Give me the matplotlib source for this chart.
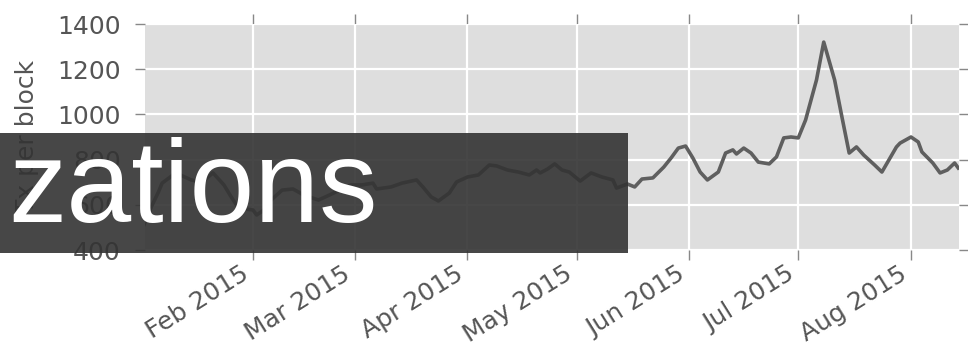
import matplotlib
matplotlib.use("Agg")
import matplotlib.pyplot as plt
import matplotlib.dates as mdates
from matplotlib.patches import Rectangle
import pandas as pd

dates = ["2015-01-02", "2015-01-04", "2015-01-06", "2015-01-07", "2015-01-10",
         "2015-01-12", "2015-01-15", "2015-01-18", "2015-01-21", "2015-01-24",
         "2015-01-26", "2015-01-28", "2015-02-01", "2015-02-02", "2015-02-04",
         "2015-02-06", "2015-02-09", "2015-02-12", "2015-02-15", "2015-02-19",
         "2015-02-22", "2015-02-26", "2015-02-28", "2015-03-03", "2015-03-06",
         "2015-03-07", "2015-03-11", "2015-03-14", "2015-03-18", "2015-03-20",
         "2015-03-22", "2015-03-24", "2015-03-27", "2015-03-29", "2015-04-01",
         "2015-04-04", "2015-04-07", "2015-04-09", "2015-04-12", "2015-04-15",
         "2015-04-18", "2015-04-20", "2015-04-21", "2015-04-23", "2015-04-25",
         "2015-04-27", "2015-04-29", "2015-05-02", "2015-05-05", "2015-05-08",
         "2015-05-11", "2015-05-12", "2015-05-15", "2015-05-17", "2015-05-19",
         "2015-05-22", "2015-05-25", "2015-05-27", "2015-05-29", "2015-05-31",
         "2015-06-02", "2015-06-04", "2015-06-06", "2015-06-09", "2015-06-11",
         "2015-06-13", "2015-06-14", "2015-06-16", "2015-06-18", "2015-06-20",
         "2015-06-23", "2015-06-25", "2015-06-27", "2015-06-29", "2015-07-01",
         "2015-07-03", "2015-07-06", "2015-07-08", "2015-07-11", "2015-07-13",
         "2015-07-15", "2015-07-17", "2015-07-19", "2015-07-22", "2015-07-24",
         "2015-07-28", "2015-07-29", "2015-08-01", "2015-08-03", "2015-08-04",
         "2015-08-07", "2015-08-09", "2015-08-11", "2015-08-13", "2015-08-14"]
tx_per_block = [511, 590, 657, 696, 732, 732, 710, 701, 741, 688,
                635, 586, 577, 555, 577, 621, 665, 670, 643, 621,
                643, 674, 688, 688, 696, 670, 679, 696, 710, 674,
                635, 617, 652, 701, 723, 732, 776, 772, 754, 745,
                732, 754, 741, 758, 781, 754, 745, 705, 741, 723,
                710, 674, 692, 679, 714, 719, 767, 807, 851, 860,
                807, 745, 710, 745, 829, 843, 825, 851, 829, 789,
                781, 812, 896, 900, 896, 975, 1152, 1320, 1152, 989,
                829, 856, 820, 776, 745, 856, 873, 900, 878, 834,
                785, 741, 754, 785, 763]
y_ticks = [400, 600, 800, 1000, 1200, 1400]
y_label = "Tx per block"
banner_text = "zations"

txt_col = "#555555"

fig = plt.figure(figsize=(9.68, 3.59), dpi=100)
ax = fig.add_axes([145 / 968, 1 - 250 / 359, 814 / 968, 226 / 359])
ax.set_facecolor("#dedede")
for s in ax.spines.values():
    s.set_visible(False)

x = pd.to_datetime(dates)
ax.plot(x, tx_per_block, color="#5f5f5f", lw=2.6, zorder=3)

ax.set_xlim(pd.Timestamp("2015-01-02 07:00"), pd.Timestamp("2015-08-14 05:00"))
ax.set_ylim(400, 1400)
ax.set_yticks(y_ticks)
ax.xaxis.set_major_locator(mdates.MonthLocator())
ax.xaxis.set_major_formatter(mdates.DateFormatter("%b %Y"))

ax.grid(True, color="white", lw=1.6, zorder=1)
ax.set_axisbelow(True)
ax.tick_params(which="both", direction="out", top=True, right=True,
               length=7.5, width=1, color="#888888", labelcolor=txt_col,
               labelsize=18)
ax.tick_params(axis="y", pad=10)
ax.tick_params(axis="x", pad=1)
for lab in ax.get_xticklabels():
    lab.set_rotation(32)
    lab.set_ha("right")

ax.set_ylabel(y_label, fontsize=18, color=txt_col)
ax.yaxis.set_label_coords(-0.13, 0.5)

# dark banner laid over the lower left of the chart
fig.add_artist(Rectangle((0, 1 - 253 / 359), 628 / 968, 120 / 359,
                         transform=fig.transFigure, facecolor="#333333",
                         edgecolor="none", alpha=0.9, zorder=10))
fig.text(8 / 968, 1 - 222 / 359, banner_text, fontsize=84, color="white",
         family=["Liberation Sans", "DejaVu Sans"], ha="left", va="baseline",
         zorder=11)

fig.savefig("out.png", dpi=100)
